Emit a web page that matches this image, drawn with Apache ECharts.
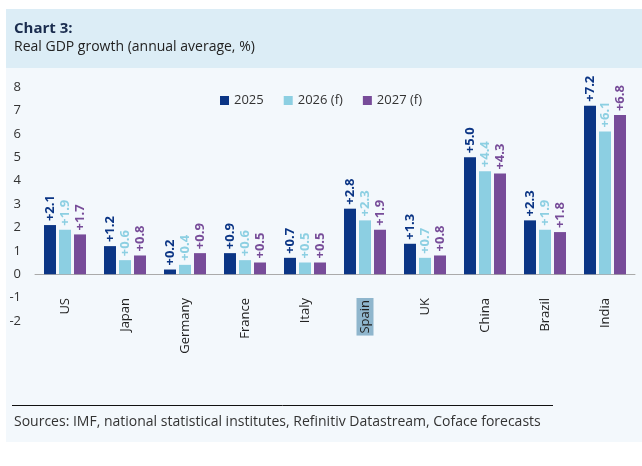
<!DOCTYPE html>
<html><head><meta charset="utf-8">
<script src="https://cdn.jsdelivr.net/npm/echarts@6/dist/echarts.min.js"></script>
<style>html,body{margin:0;padding:0;background:#fff}#c{width:642px;height:466px}</style>
</head><body><div id="c"></div>
<script>
const categories = ['US','Japan','Germany','France','Italy','Spain','UK','China','Brazil','India'];
const seriesNames = ['2025','2026 (f)','2027 (f)'];
const v2025 = [2.1,1.2,0.2,0.9,0.7,2.8,1.3,5.0,2.3,7.2];
const v2026 = [1.9,0.6,0.4,0.6,0.5,2.3,0.7,4.4,1.9,6.1];
const v2027 = [1.7,0.8,0.9,0.5,0.5,1.9,0.8,4.3,1.8,6.8];
const yTicks = [-2,-1,0,1,2,3,4,5,6,7,8];
const highlighted = 'Spain';

const colors = ['#0b3585','#8ccfe2','#774c99'];
const FONT = 'Open Sans';
const chart = echarts.init(document.getElementById('c'));
function mk(name, data, i){
  return {
    name, type:'bar', data, barWidth:12, barGap:'25%',
    itemStyle:{color:colors[i]},
    label:{show:true, position:'top', rotate:90, align:'left', verticalAlign:'middle', distance:4,
      color:colors[i], fontWeight:'bold', fontSize:13, fontFamily:FONT,
      formatter:p=>'+'+p.value.toFixed(1)}
  };
}
chart.setOption({
  backgroundColor:'#ffffff',
  textStyle:{fontFamily:FONT},
  graphic:[
    {type:'rect', shape:{x:6,y:9,width:636,height:59}, style:{fill:'#dcedf6'}, z:-10},
    {type:'rect', shape:{x:6,y:68,width:636,height:374}, style:{fill:'#f3f8fc'}, z:-10},
    {type:'line', shape:{x1:12,y1:405.5,x2:553,y2:405.5}, style:{stroke:'#111',lineWidth:1}},
    {type:'text', left:14, top:415, style:{text:'Sources: IMF, national statistical institutes, Refinitiv Datastream, Coface forecasts', font:'14px "'+FONT+'"', fill:'#333'}},
    {type:'text', left:14, top:21, style:{text:'Chart 3:', font:'bold 15px "'+FONT+'"', fill:'#1a2c4e'}},
    {type:'text', left:14, top:40, style:{text:'Real GDP growth (annual average, %)', font:'14px "'+FONT+'"', fill:'#222'}}
  ],
  legend:{top:89, left:'center', itemWidth:9, itemHeight:9, itemGap:20, icon:'rect',
    textStyle:{fontSize:13, color:'#333', fontFamily:FONT}, data:seriesNames},
  grid:{left:35, right:7, top:87, bottom:145, containLabel:false},
  xAxis:{type:'category', data:categories,
    axisLine:{onZero:true, lineStyle:{color:'#aaaaaa'}}, axisTick:{show:false},
    axisLabel:{rotate:90, margin:-23, fontSize:13, color:'#222', fontFamily:FONT, interval:0,
      formatter:v=> v===highlighted ? '{h|'+v+'}' : v,
      rich:{h:{backgroundColor:'#8fb6cd', padding:[2,2], fontSize:13, color:'#222', fontFamily:FONT}}}},
  yAxis:{type:'value', min:yTicks[0], max:yTicks[yTicks.length-1], interval:1,
    axisLine:{show:false}, axisTick:{show:false}, splitLine:{show:false},
    axisLabel:{fontSize:13, color:'#333', margin:14, fontFamily:FONT}},
  series:[mk(seriesNames[0],v2025,0), mk(seriesNames[1],v2026,1), mk(seriesNames[2],v2027,2)]
});
</script></body></html>
